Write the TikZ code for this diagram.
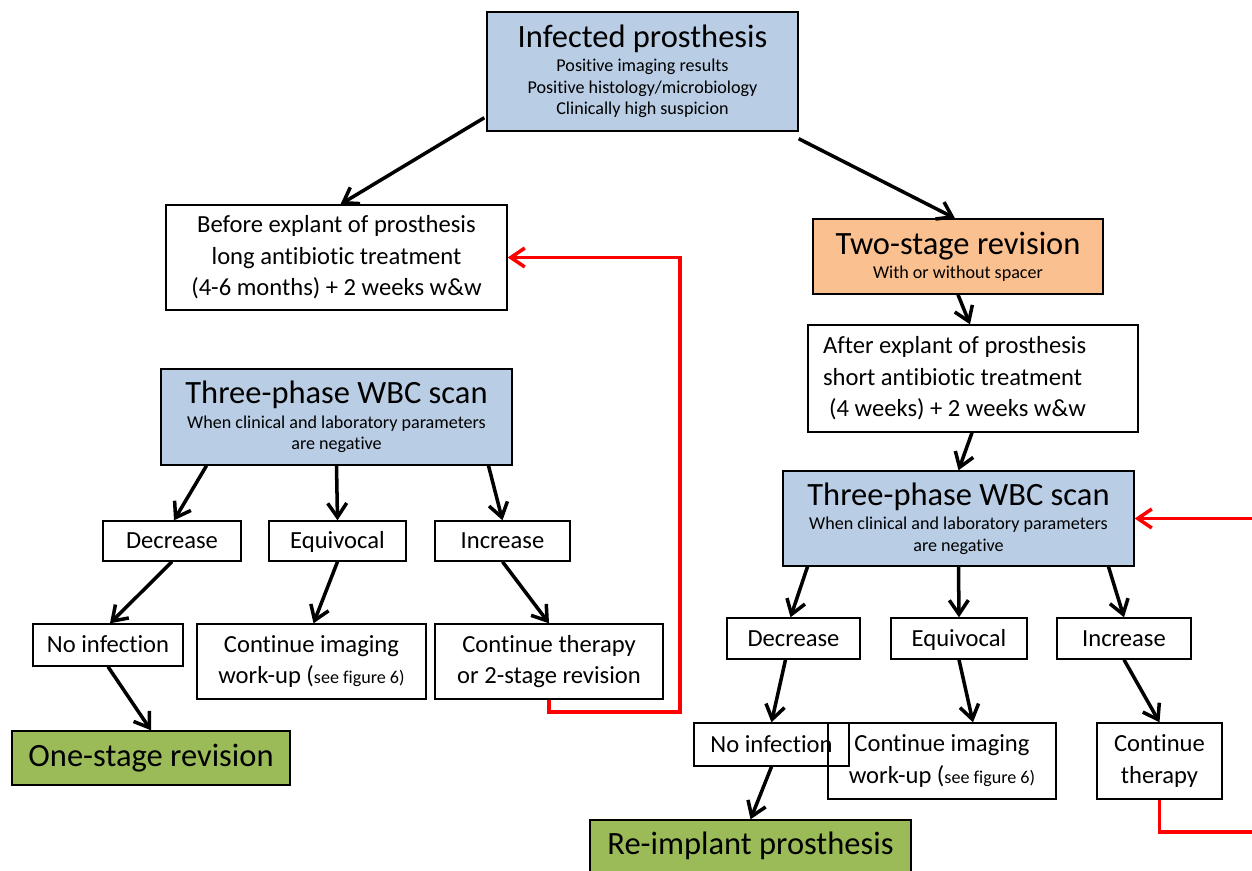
\documentclass[tikz,border=0pt]{standalone}
\usepackage{fontspec}
\setmainfont[Ligatures=NoCommon]{Carlito}
\usepackage{tikz}
\usetikzlibrary{arrows.meta,calc,positioning}
\definecolor{ScanBlue}{RGB}{185,205,229}
\definecolor{RevOrange}{RGB}{250,192,144}
\definecolor{EndGreen}{RGB}{155,187,89}
\definecolor{LoopRed}{RGB}{255,0,0}
\newcommand\bigtxt{\fontsize{18.5}{22}\selectfont}
\newcommand\bodytxt{\fontsize{14}{18}\selectfont}
\newcommand\smalltxt{\fontsize{10.3}{12.2}\selectfont}
\tikzset{
  box/.style={draw,line width=0.8pt,align=center,inner sep=2pt,font=\bodytxt},
  lbl/.style={box,text height=9pt,text depth=0pt},
  bluebox/.style={box,fill=ScanBlue,font=\smalltxt},
  orangebox/.style={box,fill=RevOrange,font=\smalltxt},
  greenbox/.style={box,fill=EndGreen,font=\bigtxt},
  arr/.style={->,line width=2pt},
  redarr/.style={->,line width=2pt,LoopRed},
}

\begin{document}
\begin{tikzpicture}[x=0.02cm,y=-0.02cm,>={Straight Barb[length=2.8mm,width=3.8mm]}]
\useasboundingbox (0,0) rectangle (1252,870);
% top
\node[bluebox,minimum width=6.22cm,minimum height=2.38cm] (infected) at (642.5,71.5)
  {{\bigtxt Infected prosthesis}\\[1.6pt]Positive imaging results\\Positive histology/microbiology\\Clinically high suspicion};
\node[box,minimum width=6.82cm,minimum height=2.10cm] (before) at (336.5,257.5)
  {Before explant of prosthesis\\long antibiotic treatment\\(4-6 months) + 2 weeks w\&w};
\node[orangebox,minimum width=5.80cm,minimum height=1.50cm] (two) at (958,256.5)
  {{\bigtxt Two-stage revision}\\[1.6pt]With or without spacer};
\node[box,align=flush left,text width=6cm,minimum width=6.60cm,minimum height=2.14cm] (after) at (973,378.5)
  {After explant of prosthesis\\short antibiotic treatment\\\hspace*{0.25em}(4 weeks) + 2 weeks w\&w};
% left branch
\node[bluebox,minimum width=7.02cm,minimum height=1.92cm] (tpwL) at (336.5,417)
  {{\bigtxt Three-phase WBC scan}\\[1.6pt]When clinical and laboratory parameters\\are negative};
\node[lbl,minimum width=2.76cm,minimum height=0.80cm] (decL) at (172,541) {Decrease};
\node[lbl,minimum width=2.74cm,minimum height=0.80cm] (eqL) at (337.5,541) {Equivocal};
\node[lbl,minimum width=2.70cm,minimum height=0.80cm] (incL) at (502.5,541) {Increase};
\node[lbl,minimum width=3.00cm,minimum height=0.84cm] (noinfL) at (108,645) {No infection};
\node[box,minimum width=4.58cm,minimum height=1.50cm] (ciL) at (311.5,661.5)
  {Continue imaging\\work-up ({\smalltxt see figure 6)}};
\node[box,minimum width=4.56cm,minimum height=1.50cm] (ctL) at (549,661.5)
  {Continue therapy\\or 2-stage revision};
\node[greenbox,minimum width=5.56cm,minimum height=1.08cm] (one) at (151,758) {One-stage revision};
% right branch
\node[bluebox,minimum width=7.02cm,minimum height=1.90cm] (tpwR) at (958.5,518.5)
  {{\bigtxt Three-phase WBC scan}\\[1.6pt]When clinical and laboratory parameters\\are negative};
\node[lbl,minimum width=2.66cm,minimum height=0.82cm] (decR) at (793.5,638.5) {Decrease};
\node[lbl,minimum width=2.72cm,minimum height=0.82cm] (eqR) at (959,638.5) {Equivocal};
\node[lbl,minimum width=2.68cm,minimum height=0.82cm] (incR) at (1124,638.5) {Increase};
\node[lbl,minimum width=3.10cm,minimum height=0.86cm] (noinfR) at (771.5,744.5) {No infection};
\node[box,minimum width=4.56cm,minimum height=1.52cm] (ciR) at (942,761)
  {Continue imaging\\work-up ({\smalltxt see figure 6)}};
\node[box,minimum width=2.50cm,minimum height=1.52cm] (ctR) at (1159.5,761)
  {Continue\\therapy};
\node[greenbox,minimum width=6.42cm,minimum height=1.04cm] (reimpl) at (750.5,846) {Re-implant prosthesis};
% loop corners
\coordinate (loopL) at (680,712);
\coordinate (loopR) at (1254,832);
% arrows
\draw[arr] ($(infected.south west)+(-2,-14)$) -- ($(before.north)+(4,0)$);
\draw[arr] ($(infected.south east)+(0,7)$) -- ($(two.north)+(-3,0)$);
\draw[arr] (two.south) -- ($(after.north)+(-3,0)$);
\draw[arr] ($(after.south)+(-1,0)$) -- (tpwR.north);
\draw[arr] ($(tpwL.south)+(-130,0)$) -- ($(decL.north)+(2,0)$);
\draw[arr] (tpwL.south) -- (eqL.north);
\draw[arr] ($(tpwL.south)+(152,0)$) -- (incL.north);
\draw[arr] (decL.south) -- ($(noinfL.north)+(2,0)$);
\draw[arr] (eqL.south) -- ($(ciL.north)+(2,0)$);
\draw[arr] (incL.south) -- (ctL.north);
\draw[arr] (noinfL.south) -- (one.north);
\draw[arr] ($(tpwR.south)+(-151,0)$) -- ($(decR.north)+(-3,0)$);
\draw[arr] (tpwR.south) -- (eqR.north);
\draw[arr] ($(tpwR.south)+(150,0)$) -- (incR.north);
\draw[arr] ($(decR.south)+(-8,0)$) -- (noinfR.north);
\draw[arr] (eqR.south) -- ($(ciR.north)+(31,0)$);
\draw[arr] (incR.south) -- (ctR.north);
\draw[arr] (noinfR.south) -- (reimpl.north);
\draw[redarr] (ctL.south) |- (loopL) |- (before.east);
\draw[redarr] (ctR.south) |- (loopR) |- (tpwR.east);
\end{tikzpicture}
\end{document}
